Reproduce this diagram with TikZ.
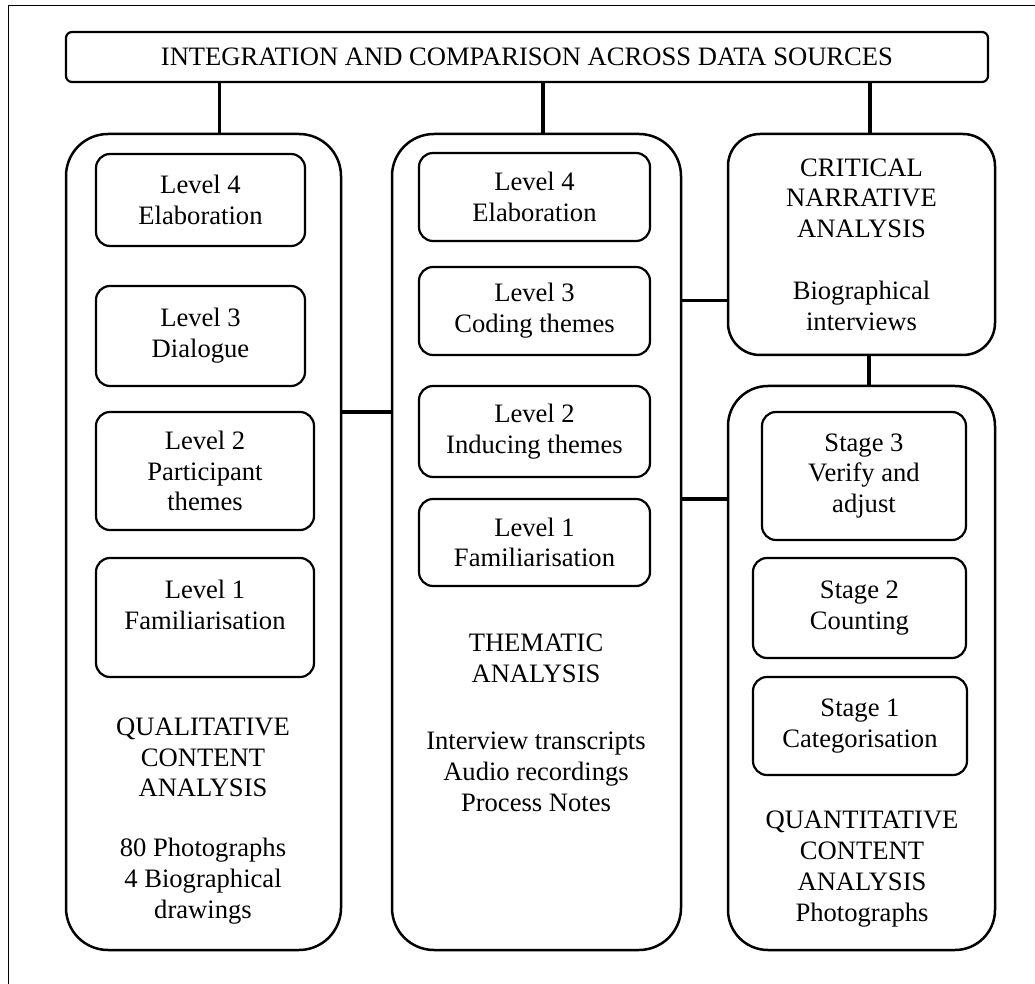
\documentclass[tikz,border=0pt]{standalone}
\usepackage{fontspec}
\setmainfont{Liberation Serif}
\usetikzlibrary{calc}
\tikzset{
%Define style for the frame and the connecting lines
frame line/.style={line width=0.5pt},
connection/.style={line width=1.8pt},
%Define style for the different boxes
head box/.style={draw, line width=1.1pt, rounded corners=3pt, inner sep=0pt},
outer box/.style={draw, line width=1.25pt, rounded corners=21pt, inner sep=0pt, align=center},
level box/.style={draw, line width=1.1pt, rounded corners=7pt, inner sep=0pt, align=center},
box text/.style={align=center, inner sep=0pt},
}

\begin{document}
\begin{tikzpicture}[x=0.5pt,y=-0.5pt,font=\fontsize{13.3pt}{15.4pt}\selectfont]
    \useasboundingbox (0,0) rectangle (1035,984);
    % Frame
    \draw[frame line] (1035,6) -- (8,6) -- (8,984);

    % Top box
    \node[head box, minimum width=461pt, minimum height=25pt] (top) at (527,57)
      {INTEGRATION AND COMPARISON ACROSS DATA SOURCES};

    % The big boxes
    \node[outer box, minimum width=137.5pt, minimum height=408pt] (qca) at (203.5,542) {};
    \node[outer box, minimum width=144.5pt, minimum height=408pt] (ta) at (536.5,542) {};
    \node[outer box, rounded corners=16pt, minimum width=133.5pt, minimum height=110.5pt] (cna) at (861.5,244.5)
      {CRITICAL\\NARRATIVE\\ANALYSIS\\[15.4pt]Biographical\\interviews};
    \node[outer box, rounded corners=20pt, minimum width=133.5pt, minimum height=282pt] (qnt) at (861.5,668) {};

    % Qualitative content analysis
    \node[level box, minimum width=104.5pt, minimum height=46pt] (q4) at (200.5,200) {Level 4\\Elaboration};
    \node[level box, minimum width=104.5pt, minimum height=50pt] (q3) at (200.5,336) {Level 3\\Dialogue};
    \node[level box, minimum width=109pt, minimum height=59pt] (q2) at (205,471) {Level 2\\Participant\\themes};
    \node[level box, minimum width=109pt, minimum height=59.5pt] (q1) at (205,617.5) {Level 1\\Familiarisation\\[-3pt]\mbox{}};
    \node[box text] (qcatext) at (203,757.5) {QUALITATIVE\\CONTENT\\ANALYSIS};
    \node[box text] (qcadata) at (203,881) {80 Photographs\\4 Biographical\\drawings};

    % Thematic analysis
    \node[level box, minimum width=115.5pt, minimum height=44pt] (t4) at (534.5,197) {Level 4\\Elaboration};
    \node[level box, minimum width=115.5pt, minimum height=44pt] (t3) at (534.5,311) {Level 3\\Coding themes};
    \node[level box, minimum width=115.5pt, minimum height=45.5pt] (t2) at (534.5,431.5) {Level 2\\Inducing themes};
    \node[level box, minimum width=115.5pt, minimum height=43.5pt] (t1) at (534.5,542.5) {Level 1\\Familiarisation};
    \node[box text] (tatext) at (536,658) {THEMATIC\\ANALYSIS};
    \node[box text] (tadata) at (536,772) {Interview transcripts\\Audio recordings\\Process Notes};

    % Quantitative content analysis
    \node[level box, minimum width=102pt, minimum height=64pt] (s3) at (864,476) {Stage 3\\Verify and\\adjust};
    \node[level box, minimum width=106.5pt, minimum height=50pt] (s2) at (859.5,608) {Stage 2\\Counting};
    \node[level box, minimum width=107pt, minimum height=49pt] (s1) at (860,726) {Stage 1\\Categorisation};
    \node[box text] (qnttext) at (862,869) {QUANTITATIVE\\CONTENT\\ANALYSIS\\Photographs};

    % Connections
    \draw[connection] ([xshift=8pt]qca.north) -- ([xshift=8pt]qca.north |- top.south);
    \draw[connection] ([xshift=3.25pt]ta.north) -- ([xshift=3.25pt]ta.north |- top.south);
    \draw[connection] ([xshift=4.25pt]cna.north) -- ([xshift=4.25pt]cna.north |- top.south);
    \draw[connection] ([xshift=3.75pt]cna.south) -- ([xshift=3.75pt]cna.south |- qnt.north);
    \draw[connection] ([yshift=65pt]qca.east) -- ([yshift=65pt]qca.east -| ta.west);
    \draw[connection] ([yshift=-28pt]cna.west) -- ([yshift=-28pt]cna.west -| ta.east);
    \draw[connection] ([yshift=84.5pt]qnt.west) -- ([yshift=84.5pt]qnt.west -| ta.east);
\end{tikzpicture}
\end{document}
